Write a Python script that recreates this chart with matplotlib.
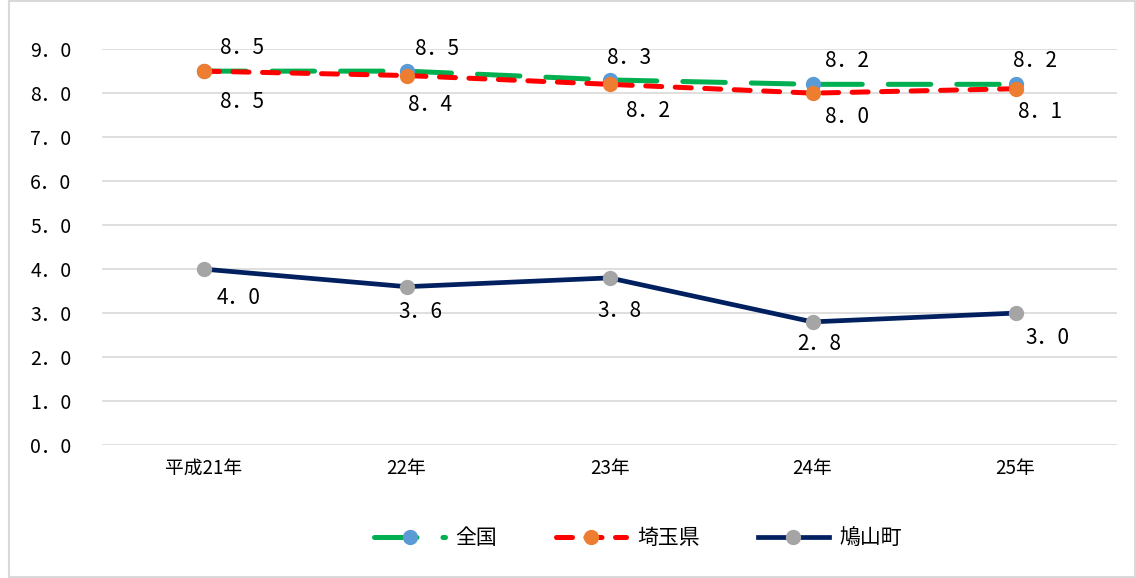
import matplotlib.pyplot as plt
from matplotlib.patches import Rectangle

plt.rcParams['font.family'] = ['Noto Sans CJK JP', 'DejaVu Sans']

# データ
years = ['平成21年', '22年', '23年', '24年', '25年']
zenkoku = [8.5, 8.5, 8.3, 8.2, 8.2]
saitama = [8.5, 8.4, 8.2, 8.0, 8.1]
hatoyama = [4.0, 3.6, 3.8, 2.8, 3.0]

# ラベルのずらし量（ポイント）
off_zen = [(28, 17), (22, 16), (14, 16), (25, 17), (14, 17)]
off_sai = [(28, -22), (17, -21), (28, -19), (25, -17), (18, -17)]
off_hat = [(25, -21), (10, -18), (7, -24), (5, -16), (23, -18)]

fig = plt.figure(figsize=(11.36, 5.78), dpi=100)
ax = fig.add_axes([0.0898, 0.230, 0.8935, 0.685])
fig.patches.append(Rectangle((0.008, 0.001), 0.991, 0.998, transform=fig.transFigure,
                             fill=False, edgecolor='#D9D9D9', linewidth=1.5))

x = range(len(years))
ax.plot(x, zenkoku, color='#00B050', lw=3.6, dashes=(8.5, 5.2), dash_capstyle='round',
        marker='o', ms=10, mfc='#5B9BD5', mec='#5B9BD5', label='全国', zorder=3)
ax.plot(x, saitama, color='#FF0000', lw=3.6, dashes=(3.2, 2.7), dash_capstyle='round',
        marker='o', ms=10, mfc='#ED7D31', mec='#ED7D31', label='埼玉県', zorder=4)
ax.plot(x, hatoyama, color='#002060', lw=3.4, marker='o', ms=10,
        mfc='#A5A5A5', mec='#A5A5A5', label='鳩山町', zorder=3)

for vals, offs in [(zenkoku, off_zen), (saitama, off_sai), (hatoyama, off_hat)]:
    for i, (v, o) in enumerate(zip(vals, offs)):
        ax.annotate(f'{v:.1f}'.replace('.', '．'), (i, v), xytext=o, textcoords='offset points',
                    ha='center', va='center', fontsize=15, color='#000000', zorder=5)

ax.set_xlim(-0.5, 4.5)
ax.set_ylim(0, 9)
ax.set_yticks(range(10))
ax.set_yticklabels([f'{v:.1f}'.replace('.', '．') for v in range(10)], fontsize=14)
ax.set_xticks(list(x))
ax.set_xticklabels(years, fontsize=13.5)
ax.tick_params(axis='y', length=0, pad=22)
ax.tick_params(axis='x', length=0, pad=9)
ax.grid(axis='y', color='#D9D9D9', lw=1.2)
ax.set_axisbelow(True)
for s in ax.spines.values():
    s.set_visible(False)

ax.legend(loc='center', bbox_to_anchor=(0.528, -0.235), ncol=3, frameon=False,
          fontsize=15, handlelength=3.4, columnspacing=2.8, handletextpad=0.5)

plt.savefig('out.png', dpi=100)
